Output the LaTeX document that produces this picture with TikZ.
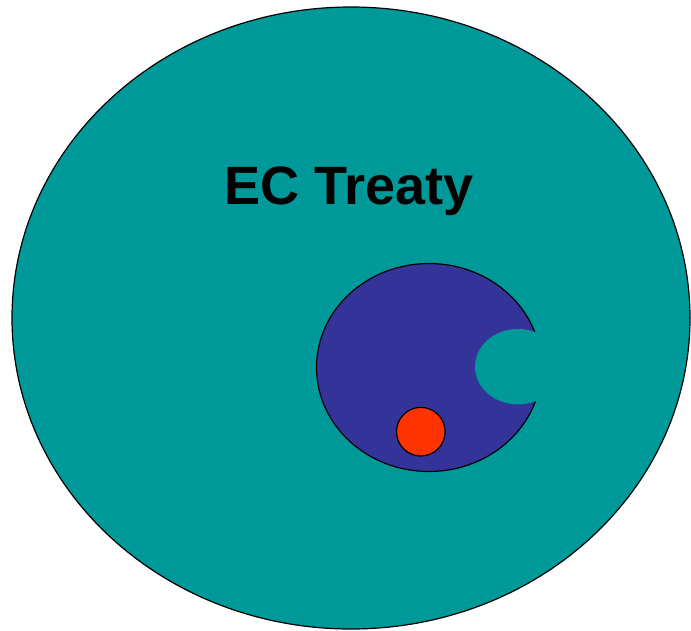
\documentclass[tikz,border=0pt]{standalone}
\usepackage{fontspec}
\setmainfont{Liberation Sans}
\definecolor{tealc}{HTML}{009999}
\definecolor{bluec}{HTML}{333399}
\definecolor{redc}{HTML}{FF3300}
\begin{document}
\begin{tikzpicture}[x=1pt,y=-1pt,
  outline/.style={draw=black,line width=1.2pt}]
\useasboundingbox (0,0) rectangle (691,630);
\fill[white] (0,0) rectangle (691,630);
\filldraw[fill=tealc,outline] (351,318) ellipse [x radius=339,y radius=311];
\node[font=\bfseries\fontsize{54}{60}\selectfont,anchor=base,inner sep=0pt] (title) at (349,204) {EC Treaty};
\filldraw[fill=bluec,outline] (429,367.5) ellipse [x radius=112.5,y radius=104];
\fill[tealc] (518,366.7) ellipse [x radius=43,y radius=37.7];
\filldraw[fill=redc,outline] (420.8,431.7) circle [radius=24.3];
\end{tikzpicture}
\end{document}
